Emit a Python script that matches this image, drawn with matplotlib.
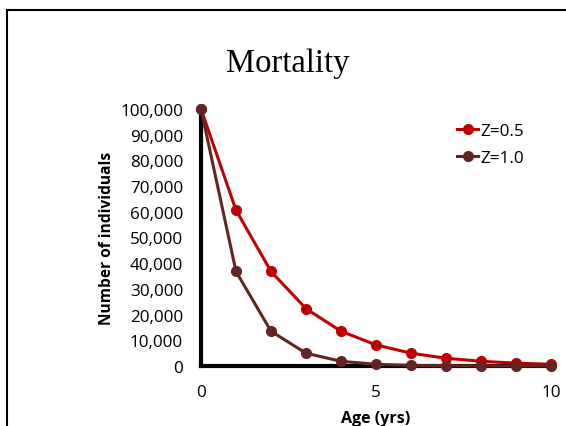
import matplotlib

matplotlib.use("Agg")
import matplotlib.pyplot as plt
from matplotlib.patches import Rectangle
from matplotlib.ticker import FuncFormatter

# Age in years and survivors
ages = [0, 1, 2, 3, 4, 5, 6, 7, 8, 9, 10]
n_z05 = [100000, 60650, 36790, 22310, 13530, 8210, 4980, 3020, 1830, 1110, 670]
n_z10 = [100000, 36790, 13530, 4980, 1830, 670, 250, 90, 30, 10, 5]
labels = ["Z=0.5", "Z=1.0"]
colors = ["#C00000", "#632523"]

label_font = ["Open Sans", "DejaVu Sans"]
fs = 12.3

fig = plt.figure(figsize=(5.66, 4.27), dpi=100)
# outer chart border, cut off at the right and bottom edges
fig.patches.append(Rectangle((7 / 566, -0.2), 1.2, 1.2 - 11 / 427, transform=fig.transFigure,
                             fill=False, edgecolor="black", linewidth=1.5))

ax = fig.add_axes([201 / 566, 60 / 427, 350 / 566, 257 / 427])
ax.plot(ages, n_z05, color=colors[0], lw=2.2, marker="o", ms=7, label=labels[0], clip_on=False, zorder=3)
ax.plot(ages, n_z10, color=colors[1], lw=2.2, marker="o", ms=7, label=labels[1], clip_on=False, zorder=4)

ax.set_xlim(0, 10)
ax.set_ylim(0, 100000)
ax.set_xticks([0, 5, 10])
ax.set_yticks(range(0, 100001, 10000))
ax.yaxis.set_major_formatter(FuncFormatter(lambda v, p: f"{int(v):,}"))
ax.tick_params(length=0, labelsize=fs)
ax.tick_params(axis="x", pad=13)
ax.tick_params(axis="y", pad=13)
for lab in ax.get_xticklabels() + ax.get_yticklabels():
    lab.set_family(label_font)

for side in ["top", "right"]:
    ax.spines[side].set_visible(False)
for side in ["left", "bottom"]:
    ax.spines[side].set_linewidth(3)

ax.set_xlabel("Age (yrs)", family=label_font, fontsize=11.5, fontweight="bold", labelpad=7.5)
ax.set_ylabel("Number of individuals", family=label_font, fontsize=11.2, fontweight="bold", labelpad=4)

fig.text(288 / 566, 1 - 64 / 427, "Mortality", family=["Liberation Serif", "DejaVu Serif"],
         fontsize=23.5, ha="center", va="center")

leg = ax.legend(loc="upper left", bbox_to_anchor=(457 / 566, 1 - 124 / 427),
                bbox_transform=fig.transFigure, borderaxespad=0, borderpad=0,
                frameon=False, handlelength=1.25, handletextpad=0.1, labelspacing=0.63,
                prop={"family": label_font, "size": fs})

fig.savefig("out.png", dpi=100)
